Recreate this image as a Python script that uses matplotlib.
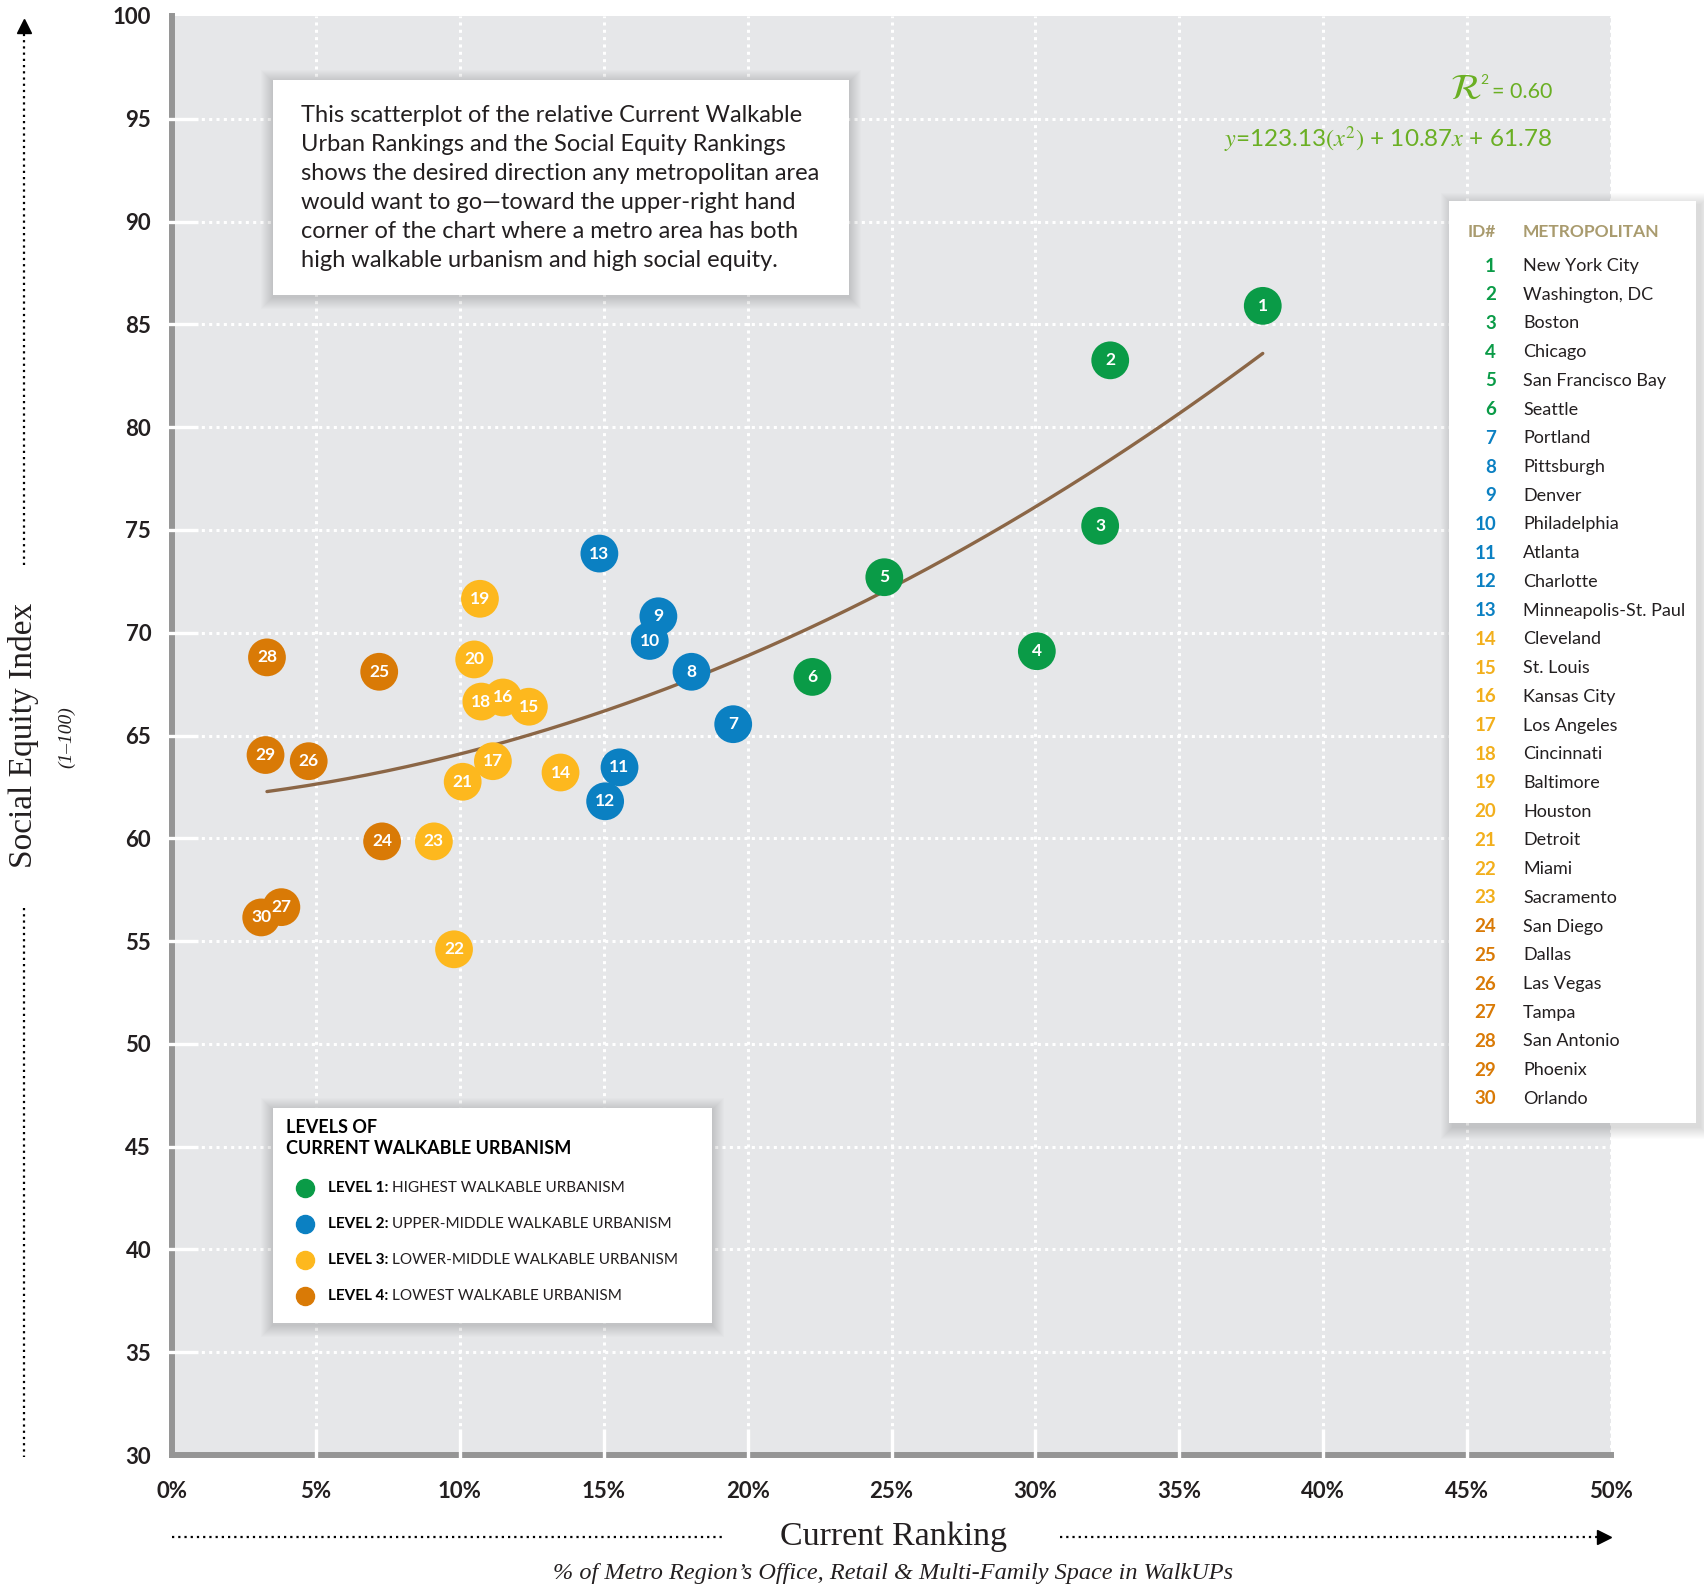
import matplotlib.pyplot as plt
import numpy as np
from matplotlib.lines import Line2D
from matplotlib.patches import Rectangle

plt.rcParams['font.family'] = ['Lato', 'DejaVu Sans']
plt.rcParams['mathtext.fontset'] = 'stix'

W, H = 1704, 1587

metro_ids = list(range(1, 31))
metro_names = [
    "New York City", "Washington, DC", "Boston", "Chicago", "San Francisco Bay",
    "Seattle", "Portland", "Pittsburgh", "Denver", "Philadelphia", "Atlanta",
    "Charlotte", "Minneapolis-St. Paul", "Cleveland", "St. Louis", "Kansas City",
    "Los Angeles", "Cincinnati", "Baltimore", "Houston", "Detroit", "Miami",
    "Sacramento", "San Diego", "Dallas", "Las Vegas", "Tampa", "San Antonio",
    "Phoenix", "Orlando",
]
levels = [1] * 6 + [2] * 7 + [3] * 10 + [4] * 7
# current ranking (% of space in WalkUPs) and social equity index
current_ranking = [
    37.9, 32.6, 32.25, 30.05, 24.75, 22.25, 19.5, 18.05, 16.9, 16.6,
    15.55, 15.05, 14.85, 13.5, 12.4, 11.5, 11.15, 10.75, 10.7, 10.5,
    10.1, 9.8, 9.1, 7.3, 7.2, 4.75, 3.8, 3.3, 3.25, 3.1,
]
social_equity = [
    85.9, 83.25, 75.2, 69.1, 72.7, 67.85, 65.55, 68.1, 70.8, 69.6,
    63.45, 61.8, 73.85, 63.2, 66.4, 66.85, 63.75, 66.65, 71.65, 68.7,
    62.75, 54.6, 59.85, 59.85, 68.1, 63.75, 56.65, 68.8, 64.05, 56.15,
]
trend_coef = [123.13, 10.87, 61.78]  # y = a*x^2 + b*x + c, x as fraction
trend_range = [3.3, 37.9]

level_colors = {1: "#0a9b47", 2: "#0b80c2", 3: "#fdb81e", 4: "#d97a06"}
level_text_colors = {1: "#0a9b47", 2: "#0b80c2", 3: "#f2af1c", 4: "#d97a06"}
level_names = [
    ("LEVEL 1:", "HIGHEST WALKABLE URBANISM"),
    ("LEVEL 2:", "UPPER-MIDDLE WALKABLE URBANISM"),
    ("LEVEL 3:", "LOWER-MIDDLE WALKABLE URBANISM"),
    ("LEVEL 4:", "LOWEST WALKABLE URBANISM"),
]
note_text = (
    "This scatterplot of the relative Current Walkable\n"
    "Urban Rankings and the Social Equity Rankings\n"
    "shows the desired direction any metropolitan area\n"
    "would want to go\u2014toward the upper-right hand\n"
    "corner of the chart where a metro area has both\n"
    "high walkable urbanism and high social equity."
)

x_ticks = list(range(0, 51, 5))
y_ticks = list(range(30, 101, 5))

TEXT = "#231f20"
TAN = "#a99b6e"
EQ_GREEN = "#6aaf23"


def fxy(x, y):
    return x / W, 1 - y / H


def panel(x0, y0, x1, y1, dx=3, dy=4, spread=12):
    for i in range(spread, 0, -1):
        fig.add_artist(Rectangle(((x0 - i + dx) / W, 1 - (y1 + i + dy) / H),
                                 (x1 - x0 + 2 * i) / W, (y1 - y0 + 2 * i) / H,
                                 transform=fig.transFigure, facecolor="black",
                                 alpha=0.012, lw=0, zorder=10))
    fig.add_artist(Rectangle((x0 / W, 1 - y1 / H), (x1 - x0) / W, (y1 - y0) / H,
                             transform=fig.transFigure, facecolor="white",
                             lw=0, zorder=11))


fig = plt.figure(figsize=(W / 100, H / 100), dpi=100)
ax = fig.add_axes([172 / W, 1 - 1455 / H, (1611 - 172) / W, (1455 - 16) / H])
ax.set_facecolor("#e6e7e9")
ax.set_xlim(0, 50)
ax.set_ylim(30, 100)

for s in ["top", "right"]:
    ax.spines[s].set_visible(False)
for s in ["left", "bottom"]:
    ax.spines[s].set_color("#959595")
    ax.spines[s].set_linewidth(4.3)
    ax.spines[s].set_zorder(2)

# dotted white grid
for xv in x_ticks[1:]:
    ax.axvline(xv, color="white", lw=2.2, ls=(0, (1, 1.4)), zorder=1)
for yv in y_ticks[1:-1]:
    ax.axhline(yv, color="white", lw=2.2, ls=(0, (1, 1.4)), zorder=1)

# white tick stubs cutting through the spines
for xv in x_ticks[1:-1]:
    ax.plot([xv, xv], [-0.003, 0.018], color="white", lw=2.4,
            transform=ax.get_xaxis_transform(), clip_on=False, zorder=2.6,
            solid_capstyle="butt")
for yv in y_ticks[1:-1]:
    ax.plot([-0.003, 0.018], [yv, yv], color="white", lw=2.4,
            transform=ax.get_yaxis_transform(), clip_on=False, zorder=2.6,
            solid_capstyle="butt")

ax.set_xticks(x_ticks)
ax.set_xticklabels([f"{v}%" for v in x_ticks])
ax.set_yticks(y_ticks)
ax.set_yticklabels([str(v) for v in y_ticks])
ax.tick_params(axis="x", length=0, pad=19, labelsize=16, labelcolor=TEXT)
ax.tick_params(axis="y", length=0, pad=15, labelsize=16, labelcolor=TEXT)
for lab in ax.get_xticklabels() + ax.get_yticklabels():
    lab.set_fontweight("bold")

# trend line
xs = np.linspace(trend_range[0], trend_range[1], 200)
a, b, c = trend_coef
ax.plot(xs, a * (xs / 100) ** 2 + b * (xs / 100) + c, color="#8b6646",
        lw=2.4, zorder=3, solid_capstyle="round")

# points, drawn from 30 down to 1; numbers stay on top
for k, i in enumerate(range(29, -1, -1)):
    ax.scatter(current_ranking[i], social_equity[i], s=740,
               color=level_colors[levels[i]], edgecolors="none",
               zorder=4 + k * 0.01)
    ax.text(current_ranking[i], social_equity[i], str(metro_ids[i]),
            color="white", fontsize=12.5, fontweight="bold",
            ha="center", va="center", zorder=5)

# note box
panel(273, 80, 849, 295, dx=0, dy=2)
fig.text(*fxy(301, 188), note_text, fontsize=17, color=TEXT, ha="left",
         va="center", linespacing=1.47, zorder=12)

# level legend box
panel(273, 1108, 712, 1323, dx=0, dy=2)
fig.text(*fxy(286, 1138), "LEVELS OF\nCURRENT WALKABLE URBANISM",
         fontsize=13, fontweight="bold", color="black", ha="left",
         va="center", linespacing=1.25, zorder=12)
renderer = fig.canvas.get_renderer()
for j, (bold_part, rest) in enumerate(level_names):
    yy = 1188 + j * 36
    fig.add_artist(Line2D([305 / W], [1 - yy / H], marker="o", markersize=13,
                          color=level_colors[j + 1], lw=0,
                          transform=fig.transFigure, zorder=12))
    t = fig.text(*fxy(328, yy), bold_part, fontsize=11, fontweight="bold",
                 color="black", ha="left", va="center", zorder=12)
    bb = t.get_window_extent(renderer=renderer)
    fig.text((bb.x1 + 4) / W, 1 - yy / H, rest, fontsize=11,
             color=TEXT, ha="left", va="center", zorder=12)

# metro table
panel(1449, 201, 1696, 1123, dx=4, dy=4)
fig.text(*fxy(1496, 232), "ID#", fontsize=12.5, fontweight="bold", color=TAN,
         ha="right", va="center", zorder=12)
fig.text(*fxy(1523, 232), "METROPOLITAN", fontsize=12.5, fontweight="bold",
         color=TAN, ha="left", va="center", zorder=12)
for i, name in enumerate(metro_names):
    yy = 266 + i * 28.72
    fig.text(*fxy(1496, yy), str(metro_ids[i]), fontsize=13.5, fontweight="bold",
             color=level_text_colors[levels[i]], ha="right", va="center",
             zorder=12)
    fig.text(*fxy(1523, yy), name, fontsize=13, color=TEXT, ha="left",
             va="center", zorder=12)

# fit statistics
t = fig.text(*fxy(1552, 92), "= 0.60", fontsize=15.5, color=EQ_GREEN,
             ha="right", va="center")
bb = t.get_window_extent(renderer=renderer)
t2 = fig.text((bb.x0 - 3) / W, 1 - 80 / H, "2", fontsize=10,
              color=EQ_GREEN, ha="right", va="center")
bb2 = t2.get_window_extent(renderer=renderer)
fig.text((bb2.x0 + 1) / W, 1 - 88 / H, r"$\mathcal{R}$", fontsize=26,
         color=EQ_GREEN, ha="right", va="center")
fig.text(*fxy(1552, 140),
         r"$y$=123.13$(x^{2})$ + 10.87$x$ + 61.78",
         fontsize=17.5, color=EQ_GREEN, ha="right", va="center")

# axis titles
serif = ["Liberation Serif", "DejaVu Serif"]
fig.text(*fxy(24, 735), "Social Equity Index", rotation=90, fontsize=24,
         family=serif, color=TEXT, ha="center", va="center")
fig.text(*fxy(67, 737), "(1\u2013100)", rotation=90, fontsize=14,
         family=serif, style="italic", color=TEXT, ha="center", va="center")
fig.text(*fxy(893, 1537), "Current Ranking", fontsize=24.5, family=serif,
         color=TEXT, ha="center", va="center")
fig.text(*fxy(893, 1573),
         "% of Metro Region\u2019s Office, Retail & Multi-Family Space in WalkUPs",
         fontsize=17.5, family=serif, style="italic", color=TEXT,
         ha="center", va="center")

# dotted guide arrows
dot_style = dict(color="black", lw=1.6, ls=(0, (1, 1.8)),
                 transform=fig.transFigure)
fig.add_artist(Line2D([24 / W, 24 / W], [1 - 565 / H, 1 - 30 / H], **dot_style))
fig.add_artist(Line2D([24 / W, 24 / W], [1 - 908 / H, 1 - 1457 / H], **dot_style))
fig.add_artist(Line2D([24 / W], [1 - 26 / H], marker="^", markersize=10,
                      color="black", lw=0, transform=fig.transFigure))
fig.add_artist(Line2D([172 / W, 723 / W], [1 - 1537 / H] * 2, **dot_style))
fig.add_artist(Line2D([1060 / W, 1600 / W], [1 - 1537 / H] * 2, **dot_style))
fig.add_artist(Line2D([1604 / W], [1 - 1537 / H], marker=">", markersize=10,
                      color="black", lw=0, transform=fig.transFigure))

fig.savefig("out.png", dpi=100)
